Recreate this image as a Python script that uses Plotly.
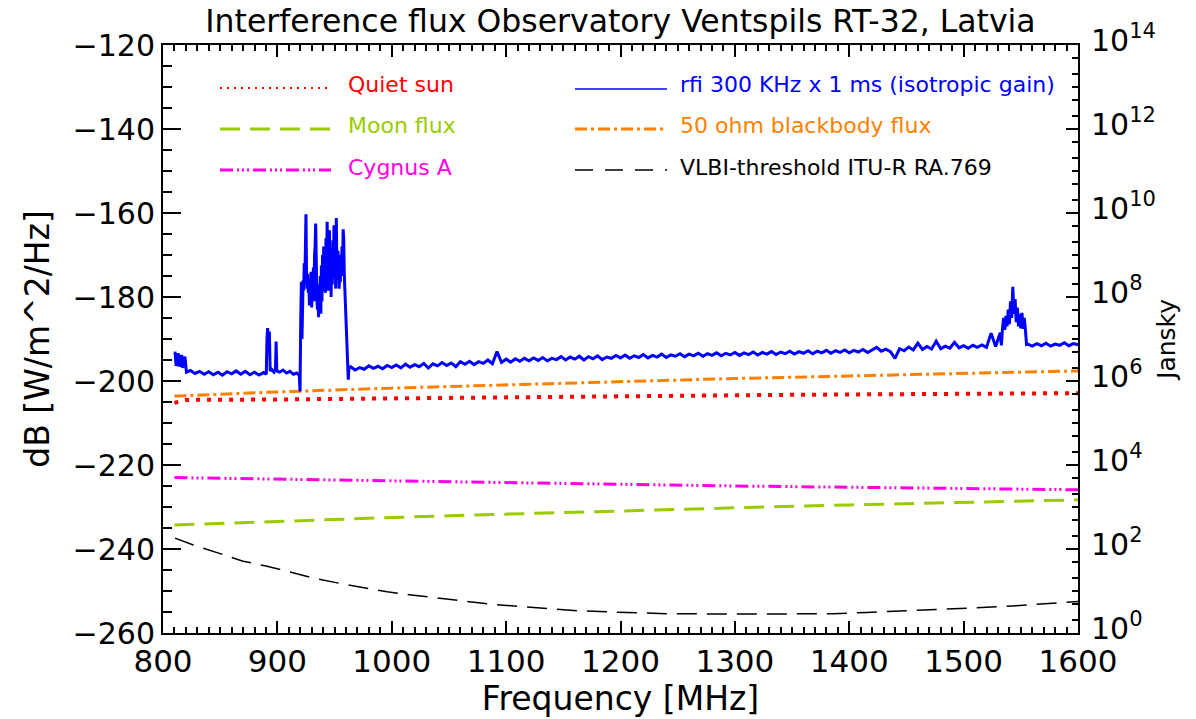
import numpy as np
import plotly.graph_objects as go

# ---------------- data ----------------
# Quiet sun
qs_freq = [810, 820, 900, 1000, 1100, 1200, 1300, 1400, 1500, 1600]
qs_db = [-205.2, -204.5, -204.4, -204.1, -203.8, -203.6, -203.4, -203.2, -203.0, -202.9]

# Moon flux
moon_freq = [810, 900, 1000, 1100, 1200, 1300, 1400, 1500, 1600]
moon_db = [-234.3, -233.4, -232.5, -231.7, -230.9, -230.2, -229.5, -228.9, -228.3]

# Cygnus A
cyg_freq = [810, 900, 1000, 1100, 1200, 1300, 1400, 1500, 1600]
cyg_db = [-223.0, -223.4, -223.8, -224.2, -224.6, -225.0, -225.3, -225.6, -225.9]

# 50 ohm blackbody flux
bb_freq = [810, 900, 1000, 1100, 1200, 1300, 1400, 1500, 1600]
bb_db = [-203.6, -202.6, -201.7, -200.9, -200.1, -199.4, -198.8, -198.2, -197.6]

# VLBI threshold ITU-R RA.769
vlbi_freq = [810.5, 826, 850, 870, 891, 911, 931, 955, 972, 996, 1019, 1042, 1066,
             1089, 1112, 1136, 1162, 1191, 1211, 1240, 1300, 1386, 1415, 1444, 1473,
             1503, 1546, 1590, 1600]
vlbi_db = [-237.4, -239.0, -241.1, -242.9, -244.1, -245.5, -246.9, -248.2, -249.0,
           -250.2, -251.0, -251.8, -252.5, -253.2, -253.7, -254.3, -254.7, -255.0,
           -255.1, -255.4, -255.5, -255.4, -255.1, -254.8, -254.4, -254.1, -253.5,
           -252.7, -252.5]

# rfi 300 KHz x 1 ms (isotropic gain) -- segment 810-921 MHz
rfi_a_freq = [810.5, 811.5, 813.4, 814.3, 816.3, 817.2, 819.2, 820.5, 824, 828, 832, 836,
              840, 844, 848, 852, 856, 860, 864, 868, 872, 876, 880, 884, 888, 890.3,
              890.9, 891.5, 892.2, 893.0, 893.7, 895, 897, 898.3, 898.9, 899.5, 902, 905,
              908, 911, 914, 917, 919.2, 919.8, 920.4, 921.0, 921.5]
rfi_a_db = [-193.0, -196.4, -193.4, -196.6, -193.8, -196.9, -194.2, -197.9, -197.5, -198.2,
            -197.7, -198.4, -197.8, -198.5, -197.9, -198.6, -197.8, -198.3, -197.6, -198.4,
            -197.7, -198.5, -197.9, -198.6, -198.0, -198.4, -190.0, -187.4, -192.5, -188.2,
            -197.6, -197.2, -197.9, -197.3, -190.6, -197.6, -197.9, -197.4, -198.1, -197.7,
            -198.4, -198.1, -198.7, -202.5, -186.0, -176.4, -190.0]

# rfi -- strong block 922-962.5 MHz, sampled every 0.5 MHz
rfi_b_db = [-181.0, -176.0, -178.5, -172.0, -176.5, -166.0, -160.3, -175.0, -178.0, -174.5,
            -179.0, -176.0, -182.0, -175.5, -180.5, -174.0, -182.5, -176.5, -179.5, -173.0,
            -181.0, -170.0, -168.0, -162.5, -176.0, -180.0, -183.0, -178.0, -184.8, -177.0,
            -183.5, -175.0, -184.0, -172.5, -181.0, -170.0, -178.5, -168.0, -176.0, -169.5,
            -179.0, -166.0, -175.0, -162.1, -172.0, -178.5, -170.0, -164.1, -176.0, -169.0,
            -180.0, -168.5, -177.0, -166.5, -175.5, -162.9, -174.0, -170.5, -178.0, -161.2,
            -171.5, -176.0, -169.0, -174.5, -178.0, -170.0, -176.5, -172.0, -175.0, -168.0,
            -174.0, -163.9, -166.0, -174.5, -178.0, -183.0, -187.0, -191.0, -193.5, -196.0,
            -199.7, -197.0]

# rfi -- baseline 964-1532 MHz, sampled every 4 MHz
rfi_c_db = [-196.6, -197.4, -196.8, -197.2, -196.4, -197.0, -196.5, -197.1, -196.3, -196.8,
            -196.2, -196.9, -196.0, -196.7, -196.1, -196.6, -195.8, -196.9, -195.9, -196.4,
            -195.6, -196.3, -195.7, -196.6, -195.4, -196.0, -195.3, -196.1, -195.4, -195.8,
            -195.0, -195.9, -193.0, -195.6, -194.8, -195.5, -194.7, -195.3, -194.6, -195.2,
            -194.5, -195.1, -194.4, -195.2, -194.6, -194.9, -194.2, -195.0, -194.3, -194.8,
            -194.1, -195.0, -194.2, -194.7, -194.0, -194.9, -194.3, -194.6, -193.9, -194.5,
            -193.8, -194.6, -194.0, -194.4, -193.7, -194.5, -193.9, -194.3, -193.6, -194.4,
            -193.8, -194.1, -193.5, -194.2, -193.6, -194.0, -193.4, -194.1, -193.5, -193.9,
            -193.3, -194.0, -193.4, -193.8, -193.2, -193.9, -193.3, -193.7, -193.1, -193.8,
            -193.2, -193.6, -193.0, -193.7, -193.1, -193.5, -192.9, -193.6, -193.0, -193.4,
            -192.8, -193.5, -192.9, -193.3, -192.7, -193.4, -192.8, -193.2, -192.6, -193.3,
            -192.7, -193.1, -192.5, -193.2, -192.6, -192.0, -192.9, -192.4, -193.0, -194.6,
            -192.3, -192.8, -191.9, -192.6, -191.0, -192.5, -191.8, -192.4, -190.5, -192.3,
            -191.7, -192.2, -190.8, -192.1, -191.6, -192.2, -191.5, -192.0, -191.4, -192.0,
            -188.6, -191.8, -188.5]

# rfi -- block 1533-1555 MHz, sampled every 1 MHz
rfi_d_db = [-191.5, -187.5, -185.0, -187.8, -184.5, -187.0, -183.0, -186.5, -181.0, -185.0,
            -177.6, -184.0, -180.5, -186.0, -182.5, -187.0, -184.0, -187.5, -183.8, -187.6,
            -185.0, -187.8, -191.3]

# rfi -- tail 1556-1600 MHz, sampled every 4 MHz
rfi_e_db = [-191.2, -191.7, -191.1, -191.6, -191.0, -191.7, -191.2, -191.5, -190.9, -191.6,
            -191.1, -191.4]

x_ticks = [800, 900, 1000, 1100, 1200, 1300, 1400, 1500, 1600]
y_ticks = [-260, -240, -220, -200, -180, -160, -140, -120]
jy_exponents = [0, 2, 4, 6, 8, 10, 12, 14]

# ---------------- assemble rfi series ----------------
rfi_freq = (list(rfi_a_freq)
            + list(np.linspace(922.0, 962.5, len(rfi_b_db)))
            + list(np.linspace(964.0, 1532.0, len(rfi_c_db)))
            + list(np.linspace(1533.0, 1555.0, len(rfi_d_db)))
            + list(np.linspace(1556.0, 1600.0, len(rfi_e_db))))
rfi_db = list(rfi_a_db) + rfi_b_db + rfi_c_db + rfi_d_db + rfi_e_db

# ---------------- styles ----------------
FONT = "DejaVu Sans"
C_RED = "#ff0000"
C_GREEN = "#99cc00"
C_MAG = "#ff00e6"
C_BLUE = "#0000ff"
C_ORANGE = "#ff8000"
C_BLACK = "#000000"

S_QS = dict(color=C_RED, width=4, dash="4px,7px")
S_MOON = dict(color=C_GREEN, width=3, dash="20px,10px")
S_CYG = dict(color=C_MAG, width=3, dash="13px,4px,2px,3px,2px,3px,2px,4px")
S_RFI = dict(color=C_BLUE, width=3)
S_BB = dict(color=C_ORANGE, width=3, dash="12px,4px,3px,4px")
S_VLBI = dict(color=C_BLACK, width=1.5, dash="20px,10px")

fig = go.Figure()
series = [
    (qs_freq, qs_db, S_QS),
    (moon_freq, moon_db, S_MOON),
    (cyg_freq, cyg_db, S_CYG),
    (bb_freq, bb_db, S_BB),
    (vlbi_freq, vlbi_db, S_VLBI),
    (rfi_freq, rfi_db, S_RFI),
]
for fx, fy, st in series:
    fig.add_trace(go.Scatter(x=fx, y=fy, mode="lines", line=st, showlegend=False,
                             hoverinfo="skip"))
# empty trace so that the Jansky axis is drawn
fig.add_trace(go.Scatter(x=[], y=[], yaxis="y2", mode="lines", showlegend=False,
                         hoverinfo="skip"))

# ---------------- layout ----------------
L, R, T, B = 163, 118, 45, 86
W, H = 1196, 719
PW, PH = W - L - R, H - T - B


def px(xp):
    return (xp - L) / PW


def py(yp):
    return 1 - (yp - T) / PH


legend_items = [
    ("Quiet sun", dict(color=C_RED, width=2, dash="2px,5px"), 220, 331, 346, 88, 85),
    ("Moon flux", S_MOON, 220, 331, 346, 129, 126),
    ("Cygnus A", S_CYG, 220, 331, 346, 170, 167),
    ("rfi 300 KHz x 1 ms (isotropic gain)", dict(color=C_BLUE, width=1.5),
     575, 667, 678, 89, 85),
    ("50 ohm blackbody flux", S_BB, 575, 667, 678, 129, 126),
    ("VLBI-threshold ITU-R RA.769", dict(color=C_BLACK, width=1.5, dash="18px,12px"),
     575, 667, 678, 170, 167),
]
shapes = []
annotations = []
for text, st, x0, x1, xt, yl, yt in legend_items:
    shapes.append(dict(type="line", xref="paper", yref="paper", x0=px(x0), x1=px(x1),
                       y0=py(yl), y1=py(yl), line=st))
    annotations.append(dict(text=text, xref="paper", yref="paper", x=px(xt), y=py(yt),
                            xanchor="left", yanchor="middle", showarrow=False,
                            font=dict(family=FONT, size=22, color=st["color"])))

# Jansky tick labels (drawn as text so they sit slightly above their ticks)
for e in jy_exponents:
    annotations.append(dict(text="10<sup>%d</sup>" % e, xref="paper", yref="y2",
                            x=1, y=e, xanchor="left", yanchor="middle", xshift=11,
                            yshift=7, showarrow=False,
                            font=dict(family=FONT, size=30, color="black")))

fig.update_layout(
    width=W, height=H,
    margin=dict(l=L, r=R, t=T, b=B),
    paper_bgcolor="white", plot_bgcolor="white",
    font=dict(family=FONT, color="black"),
    title=dict(text="Interference flux Observatory Ventspils RT-32, Latvia",
               x=(L + PW / 2) / W, xanchor="center", xref="container",
               y=1 - 21 / H, yanchor="middle", yref="container",
               font=dict(family=FONT, size=31.5, color="black")),
    shapes=shapes,
    annotations=annotations,
    xaxis=dict(range=[800, 1600], tickvals=x_ticks, ticks="inside", ticklen=12,
               tickwidth=2, tickcolor="black", showline=True, linewidth=2,
               linecolor="black", mirror="ticks", showgrid=False, zeroline=False,
               minor=dict(dtick=10, ticks="inside", ticklen=6, tickwidth=1.5,
                          tickcolor="black", showgrid=False),
               tickfont=dict(family=FONT, size=31),
               title=dict(text="Frequency [MHz]", font=dict(family=FONT, size=33),
                          standoff=2)),
    yaxis=dict(range=[-260, -120], tickvals=y_ticks, ticks="inside", ticklen=18,
               tickwidth=2, tickcolor="black", showline=True, linewidth=2,
               linecolor="black", showgrid=False, zeroline=False,
               minor=dict(dtick=5, ticks="inside", ticklen=9, tickwidth=1.5,
                          tickcolor="black", showgrid=False),
               tickfont=dict(family=FONT, size=30),
               title=dict(text="dB [W/m^2/Hz]", font=dict(family=FONT, size=33),
                          standoff=13)),
    yaxis2=dict(overlaying="y", side="right", anchor="x", type="log", range=[0, 14],
                tickvals=[10 ** e for e in jy_exponents],
                showticklabels=False,
                ticks="inside", ticklen=12, tickwidth=2, tickcolor="black",
                showline=True, linewidth=2, linecolor="black", showgrid=False,
                zeroline=False,
                minor=dict(dtick="D2", ticks="inside", ticklen=6, tickwidth=1.5,
                           tickcolor="black", showgrid=False),
                title=dict(text="Jansky", font=dict(family=FONT, size=25),
                           standoff=78)),
)

fig.write_html("out.html", config={"displayModeBar": False},
               post_script="document.body.style.margin='0px';")
